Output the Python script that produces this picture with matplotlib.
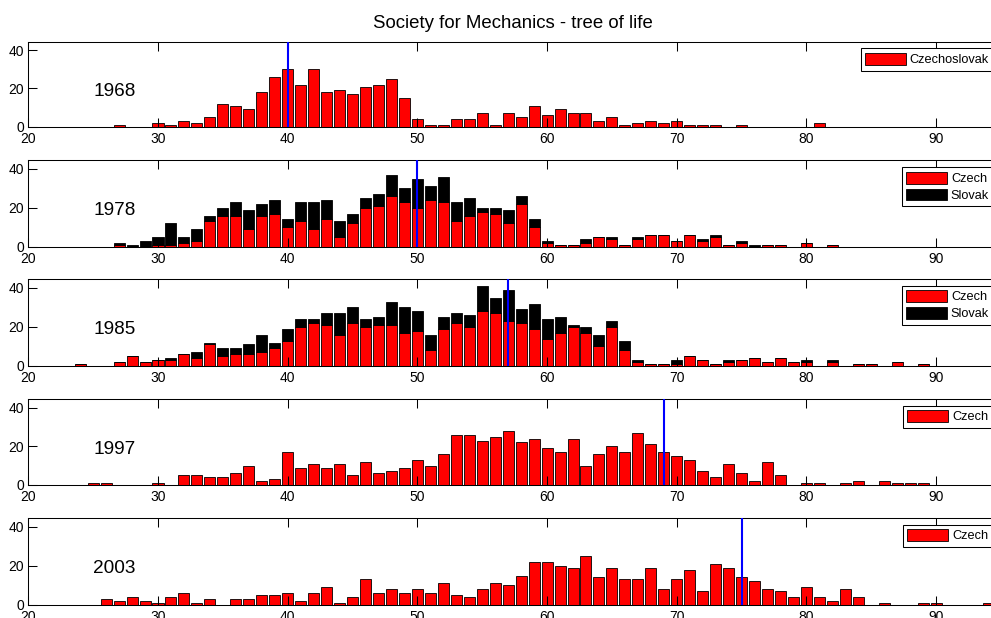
import numpy as np
import matplotlib
matplotlib.use("Agg")
import matplotlib.pyplot as plt

plt.rcParams['font.family'] = ['Liberation Sans', 'DejaVu Sans']

# ---------------- data ----------------
title = "Society for Mechanics - tree of life"
years = ["1968", "1978", "1985", "1997", "2003"]
medians = [40, 50, 57, 69, 75]
xticks = [20, 30, 40, 50, 60, 70, 80, 90]
yticks = [0, 20, 40]

ages_1968 = [27, 30, 31, 32, 33, 34, 35, 36, 37, 38, 39, 40, 41, 42, 43, 44, 45, 46,
             47, 48, 49, 50, 51, 52, 53, 54, 55, 56, 57, 58, 59, 60, 61, 62, 63, 64,
             65, 66, 67, 68, 69, 70, 71, 72, 73, 75, 81]
czechoslovak_1968 = [1, 2, 1, 3, 2, 5, 12, 11, 9, 18, 26, 30, 22, 30, 18, 19, 17, 21,
                     22, 25, 15, 4, 1, 1, 4, 4, 7, 1, 7, 5, 11, 6, 9, 7, 7, 3,
                     5, 1, 2, 3, 2, 3, 1, 1, 1, 1, 2]

ages_1978 = [27, 28, 29, 30, 31, 32, 33, 34, 35, 36, 37, 38, 39, 40, 41, 42, 43, 44,
             45, 46, 47, 48, 49, 50, 51, 52, 53, 54, 55, 56, 57, 58, 59, 60, 61, 62,
             63, 64, 65, 66, 67, 68, 69, 70, 71, 72, 73, 74, 75, 76, 77, 78, 80, 82]
czech_1978 = [1, 0, 0, 1, 1, 2, 3, 13, 16, 16, 9, 16, 17, 10, 13, 9, 14, 5,
              12, 20, 21, 26, 23, 20, 24, 23, 13, 16, 18, 17, 12, 22, 10, 2, 1, 1,
              2, 5, 4, 1, 4, 6, 6, 3, 6, 3, 5, 1, 2, 0, 1, 1, 2, 1]
slovak_1978 = [1, 1, 3, 4, 11, 3, 6, 3, 4, 7, 10, 6, 7, 4, 10, 14, 10, 8,
               5, 5, 6, 11, 7, 15, 7, 13, 10, 9, 2, 3, 7, 4, 4, 1, 0, 0,
               2, 0, 1, 0, 1, 0, 0, 0, 0, 1, 1, 0, 1, 1, 0, 0, 0, 0]

ages_1985 = [24, 27, 28, 29, 30, 31, 32, 33, 34, 35, 36, 37, 38, 39, 40, 41, 42, 43,
             44, 45, 46, 47, 48, 49, 50, 51, 52, 53, 54, 55, 56, 57, 58, 59, 60, 61,
             62, 63, 64, 65, 66, 67, 68, 69, 70, 71, 72, 73, 74, 75, 76, 77, 78, 79,
             80, 82, 84, 85, 87, 89]
czech_1985 = [1, 2, 5, 2, 3, 3, 6, 4, 11, 5, 6, 6, 7, 9, 13, 20, 22, 21,
              16, 22, 20, 21, 21, 17, 18, 8, 19, 22, 20, 28, 27, 23, 22, 19, 14, 17,
              20, 17, 10, 20, 8, 2, 1, 1, 1, 5, 3, 1, 2, 3, 4, 2, 4, 2,
              2, 2, 1, 1, 2, 1]
slovak_1985 = [0, 0, 0, 0, 0, 1, 0, 3, 1, 4, 3, 5, 9, 3, 6, 4, 2, 6,
               11, 8, 4, 4, 12, 13, 10, 8, 6, 5, 6, 13, 8, 16, 7, 13, 10, 8,
               1, 3, 6, 3, 5, 1, 0, 0, 2, 0, 0, 0, 1, 0, 0, 0, 0, 0,
               1, 1, 0, 0, 0, 0]

ages_1997 = [25, 26, 30, 32, 33, 34, 35, 36, 37, 38, 39, 40, 41, 42, 43, 44, 45, 46,
             47, 48, 49, 50, 51, 52, 53, 54, 55, 56, 57, 58, 59, 60, 61, 62, 63, 64,
             65, 66, 67, 68, 69, 70, 71, 72, 73, 74, 75, 76, 77, 78, 80, 81, 83, 84,
             86, 87, 88, 89]
czech_1997 = [1, 1, 1, 5, 5, 4, 4, 6, 10, 2, 3, 17, 9, 11, 9, 11, 5, 12,
              6, 7, 9, 13, 10, 16, 26, 26, 23, 25, 28, 22, 24, 19, 17, 24, 10, 16,
              20, 17, 27, 21, 17, 15, 13, 7, 4, 11, 6, 2, 12, 5, 1, 1, 1, 2,
              2, 1, 1, 1]

ages_2003 = [26, 27, 28, 29, 30, 31, 32, 33, 34, 36, 37, 38, 39, 40, 41, 42, 43, 44,
             45, 46, 47, 48, 49, 50, 51, 52, 53, 54, 55, 56, 57, 58, 59, 60, 61, 62,
             63, 64, 65, 66, 67, 68, 69, 70, 71, 72, 73, 74, 75, 76, 77, 78, 79, 80,
             81, 82, 83, 84, 86, 89, 90, 94]
czech_2003 = [3, 2, 4, 2, 1, 4, 6, 1, 3, 3, 3, 5, 5, 6, 2, 6, 9, 1,
              4, 13, 6, 8, 6, 8, 6, 11, 5, 4, 8, 11, 10, 15, 22, 22, 20, 19,
              25, 14, 19, 13, 13, 19, 8, 13, 18, 7, 21, 19, 14, 12, 8, 7, 4, 9,
              4, 2, 8, 4, 1, 1, 1, 1]

# ---------------- layout (pixels) ----------------
W, H = 991, 618
fig = plt.figure(figsize=(W / 100, H / 100), dpi=100)
ax_left, ax_right = 28.3, 1001.0
tops = [41.6, 160.2, 279.2, 399.0, 518.2]
bottoms = [126.7, 246.7, 365.9, 485.0, 604.7]
legend_pos = [(860.5, 48.3), (901.7, 167.3), (901.7, 285.7), (902.7, 405.7), (902.7, 524.7)]

RED = (1, 0, 0)
BLACK = (0, 0, 0)
BW = 0.85

panels = [
    ([(ages_1968, czechoslovak_1968, "Czechoslovak", RED)]),
    ([(ages_1978, czech_1978, "Czech", RED), (ages_1978, slovak_1978, "Slovak", BLACK)]),
    ([(ages_1985, czech_1985, "Czech", RED), (ages_1985, slovak_1985, "Slovak", BLACK)]),
    ([(ages_1997, czech_1997, "Czech", RED)]),
    ([(ages_2003, czech_2003, "Czech", RED)]),
]

for i, series in enumerate(panels):
    t, b = tops[i], bottoms[i]
    ax = fig.add_axes([ax_left / W, 1 - b / H, (ax_right - ax_left) / W, (b - t) / H])
    bottom = None
    handles = []
    for ages, vals, label, col in series:
        h = ax.bar(ages, vals, width=BW, bottom=bottom, color=col,
                   edgecolor='black', linewidth=0.6, label=label)
        handles.append(h)
        bottom = np.array(vals) if bottom is None else bottom + np.array(vals)
    ax.axvline(medians[i], color=(0, 0, 1), linewidth=1.5, zorder=3)
    ax.text(25, 18.6, years[i], fontsize=13.7, ha='left', va='center')
    ax.set_xlim(20, 95)
    ax.set_ylim(0, 44.5)
    ax.set_xticks(xticks)
    ax.set_yticks(yticks)
    ax.tick_params(direction='in', length=6.5, width=0.75, top=True, right=True,
                   labelsize=10, colors='black')
    ax.tick_params(axis='x', pad=3.5)
    ax.tick_params(axis='y', pad=3)
    for s in ax.spines.values():
        s.set_linewidth(0.75)
    lx, ly = legend_pos[i]
    leg = ax.legend(handles=handles, loc='upper left',
                    bbox_to_anchor=(lx / W, 1 - ly / H), bbox_transform=fig.transFigure,
                    fontsize=9.2, handlelength=3.2, handleheight=1.05, handletextpad=0.3,
                    borderpad=0.35, labelspacing=0.28, borderaxespad=0,
                    fancybox=False, framealpha=1, edgecolor='black')
    leg.get_frame().set_linewidth(0.75)

fig.text(513 / W, 1 - 23 / H, title, ha='center', va='center', fontsize=13.4)

fig.savefig("out.png", dpi=100)
